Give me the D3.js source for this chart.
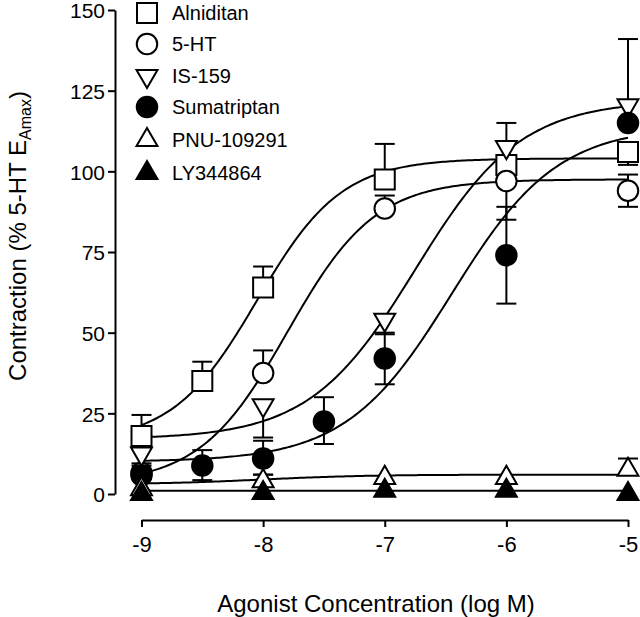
<!DOCTYPE html>
<html>
<head>
<meta charset="utf-8">
<script src="https://cdn.jsdelivr.net/npm/d3@7"></script>
<style>
  html, body { margin: 0; padding: 0; background: #fff; }
  svg { display: block; font-family: "Liberation Sans", Arial, sans-serif; }
</style>
</head>
<body>
<svg id="chart" width="640" height="617"></svg>
<script>
// ---------- data ----------
const seriesNames = ["Alniditan", "5-HT", "IS-159", "Sumatriptan", "PNU-109291", "LY344864"];
const markerTypes = ["square", "circle", "triDown", "circle", "triUp", "triUp"];
const markerFilled = [false, false, false, true, false, true];

const xAlniditan = [-9, -8.5, -8, -7, -6, -5];
const yAlniditan = [18, 35, 64, 97.5, 102, 106];
const upAlniditan = [6.5, 6, 6.5, 11, 13, 0];
const dnAlniditan = [0, 0, 0, 0, 0, 4];

const x5HT = [-9, -8, -7, -6, -5];
const y5HT = [6.5, 37.5, 88.5, 97, 94];
const up5HT = [3, 7, 4, 0, 5];
const dn5HT = [0, 0, 0, 12, 5];

const xIS159 = [-9, -8, -7, -6, -5];
const yIS159 = [12.5, 27.5, 54, 107.5, 120.5];
const upIS159 = [0, 0, 0, 0, 0];
const dnIS159 = [0, 10, 4.5, 0, 0];

const xSumatriptan = [-9, -8.5, -8, -7.5, -7, -6, -5];
const ySumatriptan = [5.8, 8.8, 11, 22.5, 42, 74, 115];
const upSumatriptan = [3, 4.8, 5.5, 7.5, 8, 15, 26];
const dnSumatriptan = [0, 4.5, 5, 7, 8, 15, 0];

const xPNU = [-9, -8, -7, -6, -5];
const yPNU = [1.5, 4, 5, 5, 7.5];
const upPNU = [0, 2, 0, 0, 3.5];
const dnPNU = [0, 0, 0, 0, 0];

const xLY = [-9, -8, -7, -6, -5];
const yLY = [0, 0.3, 1, 1, 0];
const upLY = [0, 0, 0, 0, 0];
const dnLY = [0, 0, 0, 0, 0];

// fitted sigmoid parameters (bottom, top, logEC50, hill)
const fitBottom = [16, 3, 17, 10, 3, 1];
const fitTop = [104, 97.5, 122, 114, 6, 1];
const fitLogEC50 = [-8.05, -7.8, -6.75, -6.45, -8, -7];
const fitHill = [1.25, 1.2, 1, 1, 1, 1];

const xTicks = [-9, -8, -7, -6, -5];
const yTicks = [0, 25, 50, 75, 100, 125, 150];

const xTitle = "Agonist Concentration (log M)";

// ---------- build ----------
const allX = [xAlniditan, x5HT, xIS159, xSumatriptan, xPNU, xLY];
const allY = [yAlniditan, y5HT, yIS159, ySumatriptan, yPNU, yLY];
const allUp = [upAlniditan, up5HT, upIS159, upSumatriptan, upPNU, upLY];
const allDn = [dnAlniditan, dn5HT, dnIS159, dnSumatriptan, dnPNU, dnLY];

const series = seriesNames.map((name, i) => ({
  name, type: markerTypes[i], filled: markerFilled[i],
  pts: allX[i].map((x, j) => ({ x, y: allY[i][j], up: allUp[i][j], dn: allDn[i][j] })),
  b: fitBottom[i], t: fitTop[i], ec: fitLogEC50[i], h: fitHill[i]
}));

const svg = d3.select("#chart");
const x = d3.scaleLinear().domain([-9, -5]).range([141.5, 628]);
const y = d3.scaleLinear().domain([0, 150]).range([494, 10]);

const SW = 2;

// axes
const yAxis = d3.axisLeft(y).tickValues(yTicks).tickSize(7).tickPadding(3).tickSizeOuter(0);
const gy = svg.append("g").attr("transform", "translate(115,0)").call(yAxis);
const xAxis = d3.axisBottom(x).tickValues(xTicks).tickSize(7).tickPadding(9).tickSizeOuter(0).tickFormat(d3.format("d"));
const gx = svg.append("g").attr("transform", "translate(0,520)").call(xAxis);
[gx, gy].forEach(g => {
  g.select(".domain").attr("stroke", "#000").attr("stroke-width", SW);
  g.selectAll(".tick line").attr("stroke", "#000").attr("stroke-width", SW);
  g.selectAll(".tick text").attr("fill", "#000").attr("font-size", 22)
    .attr("font-family", '"Liberation Sans", Arial, sans-serif');
});
gy.selectAll(".tick text").attr("font-size", 21).attr("dy", "0.37em");
gx.selectAll(".tick text").text(d => d3.format("d")(d).replace("−", "-"));

// axis titles
svg.append("text").attr("x", 376).attr("y", 612).attr("text-anchor", "middle")
  .attr("font-size", 24).attr("fill", "#000").text(xTitle);

const yt = svg.append("text").attr("transform", "translate(26,236) rotate(-90)")
  .attr("text-anchor", "middle").attr("font-size", 24).attr("fill", "#000");
yt.append("tspan").text("Contraction (% 5-HT E");
yt.append("tspan").attr("font-size", 16).attr("dy", 5).text("Amax");
yt.append("tspan").attr("dy", -5).text(")");

// curves
const line = d3.line().x(d => x(d[0])).y(d => y(d[1])).curve(d3.curveLinear);
const xs = d3.range(-9, -5.0001, 0.02).concat([-5]);
series.forEach(s => {
  const pts = xs.map(v => [v, s.b + (s.t - s.b) / (1 + Math.pow(10, s.h * (s.ec - v)))]);
  svg.append("path").attr("d", line(pts)).attr("fill", "none")
    .attr("stroke", "#000").attr("stroke-width", SW);
});

// marker shapes
function symbolPath(type) {
  if (type === "square") return d3.symbol().type(d3.symbolSquare).size(400)();
  if (type === "circle") return d3.symbol().type(d3.symbolCircle).size(330)();
  return d3.symbol().type(d3.symbolTriangle).size(190)();
}
function drawMarker(g, type, filled, cx, cy) {
  const p = g.append("path").attr("d", symbolPath(type))
    .attr("fill", filled ? "#000" : "#fff").attr("stroke", "#000").attr("stroke-width", SW);
  let tr = `translate(${cx},${cy})`;
  if (type === "triDown") tr += " rotate(180)";
  p.attr("transform", tr);
}

// error bars
const cap = 10;
series.forEach(s => {
  s.pts.forEach(p => {
    const cx = x(p.x);
    [[p.up, 1], [p.dn, -1]].forEach(([e, dir]) => {
      if (!e) return;
      const ye = y(p.y + dir * e);
      svg.append("line").attr("x1", cx).attr("x2", cx).attr("y1", y(p.y)).attr("y2", ye)
        .attr("stroke", "#000").attr("stroke-width", SW);
      svg.append("line").attr("x1", cx - cap).attr("x2", cx + cap).attr("y1", ye).attr("y2", ye)
        .attr("stroke", "#000").attr("stroke-width", SW);
    });
  });
});

// markers
series.forEach(s => {
  const g = svg.append("g");
  s.pts.forEach(p => drawMarker(g, s.type, s.filled, x(p.x), y(p.y)));
});

// legend
const legY = [13, 44, 76, 107, 140, 173];
const leg = svg.append("g");
series.forEach((s, i) => {
  drawMarker(leg, s.type, s.filled, 147, legY[i]);
  leg.append("text").attr("x", 172).attr("y", legY[i] + 7).attr("font-size", 20)
    .attr("fill", "#000").text(s.name);
});
</script>
</body>
</html>
